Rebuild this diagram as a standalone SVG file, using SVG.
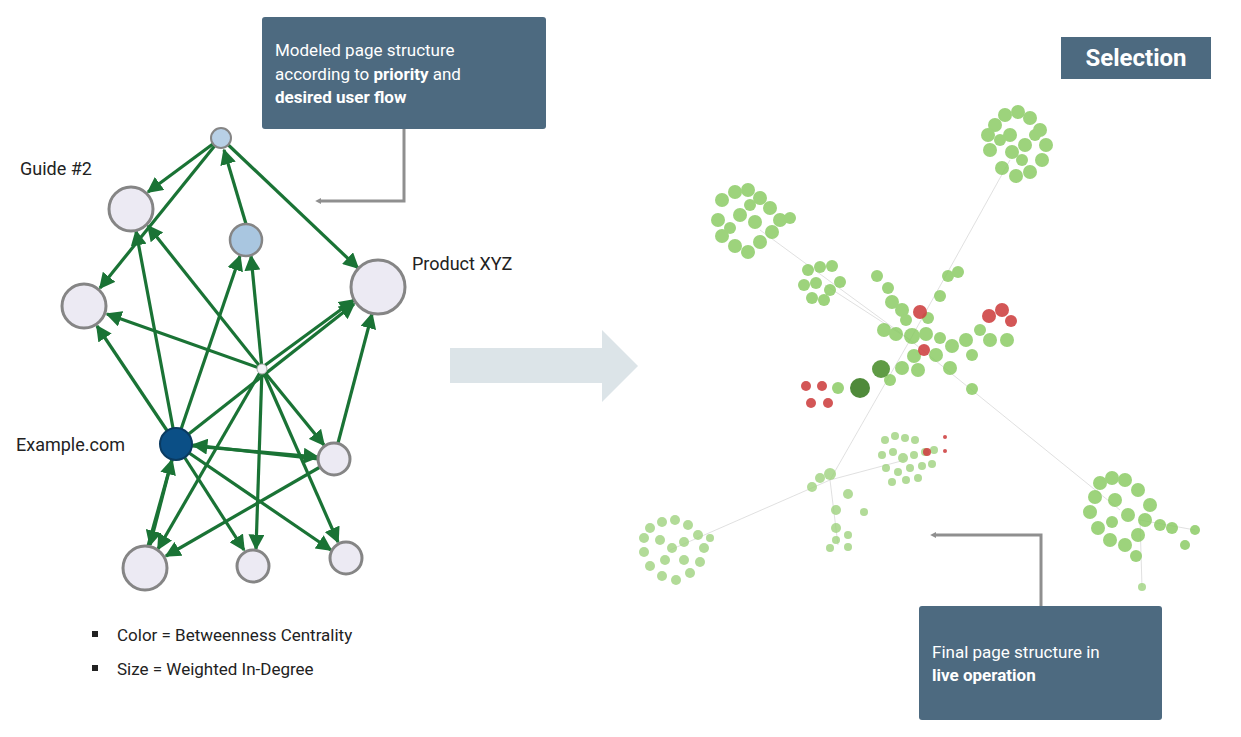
<svg xmlns="http://www.w3.org/2000/svg" width="1241" height="737" viewBox="0 0 1241 737">
<style>
.t{font-family:"Roboto","Liberation Sans",sans-serif;}
.box{fill:#4d6a80;}
.bt{font-family:"Roboto","Liberation Sans",sans-serif;font-size:17px;fill:#fff;}
.e{stroke:#1a7335;stroke-width:3.2;fill:none;marker-end:url(#ah);}
.n{fill:#eceaf3;stroke:#858585;stroke-width:3;}
.g{fill:#8ccc66;opacity:.85;}
.gs{fill:#9fd37f;opacity:.8;}
.r{fill:#cf4444;opacity:.9;}
.w{stroke:#d8d8d8;stroke-width:.8;fill:none;}
.c{stroke:#8f8f8f;stroke-width:3;fill:none;}
</style>
<defs>
<marker id="ah" viewBox="0 0 10 10" refX="9" refY="5" markerWidth="5" markerHeight="5" orient="auto" markerUnits="strokeWidth"><path d="M0,0L10,5L0,10z" fill="#1a7335"/></marker>
<marker id="ga" viewBox="0 0 10 10" refX="2" refY="5" markerWidth="6" markerHeight="6" orient="auto" markerUnits="userSpaceOnUse"><path d="M0,0L10,5L0,10z" fill="#8f8f8f"/></marker>
</defs>
<rect width="1241" height="737" fill="#fff"/>

<g id="connectors">
<line class="e" x1="221" y1="138" x2="148" y2="192"/>
<line class="e" x1="221" y1="138" x2="100" y2="288"/>
<line class="e" x1="246" y1="224" x2="224" y2="150"/>
<line class="e" x1="221" y1="138" x2="358" y2="268"/>
<line class="e" x1="176" y1="444" x2="136" y2="231"/>
<line class="e" x1="262" y1="369" x2="148" y2="226"/>
<line class="e" x1="176" y1="444" x2="240" y2="256"/>
<line class="e" x1="262" y1="369" x2="251" y2="256"/>
<line class="e" x1="262" y1="369" x2="107" y2="314"/>
<line class="e" x1="176" y1="444" x2="97" y2="326"/>
<line class="e" x1="176" y1="444" x2="354" y2="304"/>
<line class="e" x1="264" y1="366" x2="354" y2="300"/>
<line class="e" x1="338" y1="443" x2="372" y2="314"/>
<line class="e" x1="262" y1="369" x2="324" y2="445"/>
<line class="e" x1="318" y1="459" x2="193" y2="445"/>
<line class="e" x1="192" y1="446" x2="318" y2="457"/>
<line class="e" x1="176" y1="444" x2="150" y2="545"/>
<line class="e" x1="148" y1="546" x2="172" y2="460"/>
<line class="e" x1="262" y1="369" x2="158" y2="549"/>
<line class="e" x1="334" y1="459" x2="166" y2="556"/>
<line class="e" x1="176" y1="444" x2="244" y2="550"/>
<line class="e" x1="262" y1="369" x2="256" y2="549"/>
<line class="e" x1="176" y1="444" x2="331" y2="550"/>
<line class="e" x1="262" y1="369" x2="338" y2="542"/>
<path class="c" d="M404,129V201H320" marker-end="url(#ga)"/>
<path class="c" d="M1041,606V535H935" marker-end="url(#ga)"/>
</g>

<g id="node-top"><circle cx="221" cy="138" r="10" fill="#b8d0e6" stroke="#858585" stroke-width="2"/></g>
<g id="node-guide2"><circle class="n" cx="131" cy="209" r="22"/></g>
<g id="node-mid"><circle cx="246" cy="240" r="16" fill="#a9c6e0" stroke="#858585" stroke-width="2.5"/></g>
<g id="node-product"><circle class="n" cx="378" cy="287" r="27"/></g>
<g id="node-left"><circle class="n" cx="84" cy="306" r="22"/></g>
<g id="node-center"><circle cx="262" cy="369" r="5" fill="#f2f2f6" stroke="#aaa" stroke-width="1"/></g>
<g id="node-example"><circle cx="176" cy="444" r="16" fill="#0b4f86" stroke="#0a3a60" stroke-width="2"/></g>
<g id="node-right"><circle class="n" cx="334" cy="459" r="16"/></g>
<g id="node-b1"><circle class="n" cx="145" cy="568" r="22"/></g>
<g id="node-b2"><circle class="n" cx="253" cy="566" r="16"/></g>
<g id="node-b3"><circle class="n" cx="346" cy="558" r="16"/></g>

<text class="t" x="20" y="175" font-size="18" fill="#222">Guide #2</text>
<text class="t" x="412" y="270" font-size="18" fill="#222">Product XYZ</text>
<text class="t" x="16" y="451" font-size="18" fill="#222">Example.com</text>
<rect x="92" y="631" width="6" height="6" fill="#222"/>
<text class="t" x="117" y="641" font-size="17" fill="#222">Color = Betweenness Centrality</text>
<rect x="92" y="665" width="6" height="6" fill="#222"/>
<text class="t" x="117" y="675" font-size="17" fill="#222">Size = Weighted In-Degree</text>

<g id="callout-top"><rect class="box" x="262" y="17" width="284" height="112" rx="3"/>
<text class="bt" x="275" y="56">Modeled page structure</text>
<text class="bt" x="275" y="80">according to <tspan font-weight="bold">priority</tspan> and</text>
<text class="bt" x="275" y="103" font-weight="bold">desired user flow</text></g>

<g id="selection"><rect class="box" x="1061" y="37" width="150" height="42"/>
<text class="t" x="1136" y="66" font-size="24" font-weight="bold" fill="#fff" text-anchor="middle">Selection</text></g>

<g id="callout-bottom"><rect class="box" x="919" y="606" width="243" height="114" rx="3"/>
<text class="bt" x="932" y="658">Final page structure in</text>
<text class="bt" x="932" y="681" font-weight="bold">live operation</text></g>

<polygon points="450,348 602,348 602,330 638,366 602,402 602,383 450,383" fill="#dce4e8"/>

<g id="scatter">
<path class="w" d="M910,340L1010,160M910,340L760,230M910,340L825,285M910,340L1120,510M910,340L830,480L670,550M830,480L905,460M830,480L838,545M1140,520L1142,587M1140,520L1195,530"/>
<g class="g">
<circle cx="995" cy="125" r="7"/><circle cx="1005" cy="115" r="7"/><circle cx="1018" cy="112" r="7"/><circle cx="1030" cy="118" r="7"/><circle cx="1040" cy="130" r="7"/><circle cx="1046" cy="145" r="7"/><circle cx="1042" cy="160" r="7"/><circle cx="1030" cy="172" r="7"/><circle cx="1016" cy="176" r="7"/><circle cx="1002" cy="168" r="7"/><circle cx="990" cy="150" r="7"/><circle cx="988" cy="135" r="7"/><circle cx="1010" cy="135" r="7"/><circle cx="1025" cy="145" r="7"/><circle cx="1012" cy="152" r="7"/><circle cx="1035" cy="135" r="6"/><circle cx="1000" cy="140" r="6"/><circle cx="1022" cy="160" r="6"/>
<circle cx="722" cy="200" r="7"/><circle cx="735" cy="192" r="7"/><circle cx="748" cy="190" r="7"/><circle cx="760" cy="198" r="7"/><circle cx="770" cy="208" r="7"/><circle cx="780" cy="220" r="7"/><circle cx="772" cy="232" r="7"/><circle cx="760" cy="242" r="7"/><circle cx="748" cy="252" r="7"/><circle cx="735" cy="246" r="7"/><circle cx="722" cy="236" r="7"/><circle cx="718" cy="220" r="7"/><circle cx="740" cy="215" r="7"/><circle cx="755" cy="222" r="7"/><circle cx="730" cy="228" r="6"/><circle cx="750" cy="205" r="6"/><circle cx="790" cy="218" r="6"/>
<circle cx="808" cy="270" r="6"/><circle cx="820" cy="267" r="6"/><circle cx="832" cy="266" r="6"/><circle cx="804" cy="285" r="6"/><circle cx="816" cy="283" r="6"/><circle cx="830" cy="290" r="6"/><circle cx="840" cy="282" r="6"/><circle cx="812" cy="298" r="6"/><circle cx="824" cy="300" r="6"/>
<circle cx="877" cy="276" r="6"/><circle cx="888" cy="288" r="6"/><circle cx="892" cy="302" r="7"/><circle cx="902" cy="310" r="7"/><circle cx="940" cy="296" r="6"/><circle cx="948" cy="276" r="6"/><circle cx="958" cy="272" r="6"/><circle cx="884" cy="330" r="7"/><circle cx="896" cy="334" r="7"/><circle cx="912" cy="336" r="8"/><circle cx="926" cy="334" r="7"/><circle cx="940" cy="338" r="6"/><circle cx="952" cy="346" r="7"/><circle cx="966" cy="340" r="7"/><circle cx="980" cy="330" r="6"/><circle cx="990" cy="340" r="7"/><circle cx="1007" cy="340" r="7"/><circle cx="972" cy="355" r="6"/><circle cx="936" cy="355" r="7"/><circle cx="914" cy="356" r="7"/><circle cx="902" cy="368" r="7"/><circle cx="918" cy="370" r="7"/><circle cx="890" cy="380" r="6"/><circle cx="950" cy="368" r="7"/><circle cx="972" cy="389" r="6"/><circle cx="906" cy="320" r="6"/><circle cx="928" cy="318" r="6"/>
<circle cx="838" cy="388" r="6"/>
<circle cx="1100" cy="483" r="7"/><circle cx="1112" cy="478" r="7"/><circle cx="1125" cy="480" r="7"/><circle cx="1138" cy="490" r="7"/><circle cx="1150" cy="505" r="7"/><circle cx="1145" cy="520" r="7"/><circle cx="1138" cy="535" r="7"/><circle cx="1125" cy="545" r="7"/><circle cx="1110" cy="540" r="7"/><circle cx="1098" cy="528" r="7"/><circle cx="1090" cy="512" r="7"/><circle cx="1095" cy="497" r="7"/><circle cx="1115" cy="500" r="7"/><circle cx="1128" cy="515" r="7"/><circle cx="1112" cy="522" r="6"/><circle cx="1160" cy="525" r="6"/><circle cx="1172" cy="528" r="6"/><circle cx="1136" cy="556" r="6"/><circle cx="1185" cy="545" r="5"/><circle cx="1195" cy="530" r="5"/>
</g>
<g class="gs">
<circle cx="1142" cy="587" r="4"/>
<circle cx="885" cy="440" r="4"/><circle cx="895" cy="436" r="4"/><circle cx="905" cy="438" r="4"/><circle cx="915" cy="440" r="4"/><circle cx="882" cy="455" r="4"/><circle cx="893" cy="452" r="4"/><circle cx="903" cy="458" r="5"/><circle cx="914" cy="455" r="4"/><circle cx="925" cy="452" r="4"/><circle cx="934" cy="450" r="4"/><circle cx="886" cy="468" r="4"/><circle cx="898" cy="472" r="4"/><circle cx="910" cy="468" r="4"/><circle cx="922" cy="466" r="4"/><circle cx="932" cy="464" r="4"/><circle cx="892" cy="482" r="4"/><circle cx="906" cy="480" r="4"/><circle cx="918" cy="478" r="4"/>
<circle cx="812" cy="487" r="5"/><circle cx="820" cy="478" r="5"/><circle cx="830" cy="474" r="6"/><circle cx="848" cy="494" r="5"/><circle cx="836" cy="510" r="5"/><circle cx="864" cy="512" r="4"/><circle cx="836" cy="528" r="5"/><circle cx="848" cy="535" r="4"/><circle cx="836" cy="540" r="4"/><circle cx="848" cy="547" r="4"/><circle cx="830" cy="548" r="4"/>
<circle cx="650" cy="528" r="5"/><circle cx="662" cy="522" r="5"/><circle cx="675" cy="520" r="5"/><circle cx="688" cy="525" r="5"/><circle cx="698" cy="535" r="5"/><circle cx="704" cy="548" r="5"/><circle cx="700" cy="562" r="5"/><circle cx="690" cy="573" r="5"/><circle cx="676" cy="580" r="5"/><circle cx="662" cy="576" r="5"/><circle cx="650" cy="566" r="5"/><circle cx="644" cy="552" r="5"/><circle cx="644" cy="538" r="5"/><circle cx="660" cy="540" r="5"/><circle cx="672" cy="548" r="5"/><circle cx="684" cy="542" r="5"/><circle cx="665" cy="560" r="5"/><circle cx="684" cy="560" r="5"/><circle cx="710" cy="538" r="4"/>
</g>
<g class="r">
<circle cx="806" cy="386" r="5"/><circle cx="822" cy="386" r="5"/><circle cx="811" cy="403" r="5"/><circle cx="828" cy="403" r="5"/>
<circle cx="989" cy="316" r="7"/><circle cx="1002" cy="310" r="7"/><circle cx="1011" cy="321" r="6"/><circle cx="920" cy="312" r="7"/><circle cx="924" cy="350" r="6"/>
<circle cx="927" cy="452" r="4"/><circle cx="945" cy="437" r="2"/><circle cx="945" cy="451" r="2"/>
</g>
<circle cx="860" cy="388" r="10" fill="#4f8a3a"/>
<circle cx="881" cy="369" r="9" fill="#5f9b45"/>
</g>
</svg>
